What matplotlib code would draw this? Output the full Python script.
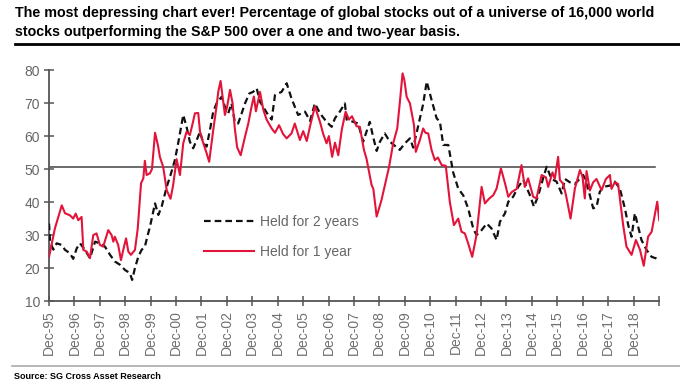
import matplotlib
matplotlib.use('Agg')
import matplotlib.pyplot as plt
import numpy as np

plt.rcParams['font.family'] = ['Liberation Sans', 'DejaVu Sans']

# Данные (дробный год, значение в %)
years_1y = [1995.92, 1996.15, 1996.42, 1996.55, 1996.74, 1996.87, 1996.97, 1997.07, 1997.20, 1997.27,
            1997.40, 1997.53, 1997.66, 1997.79, 1997.92, 1998.05, 1998.25, 1998.38, 1998.45, 1998.51,
            1998.64, 1998.75, 1998.84, 1998.95, 1999.04, 1999.14, 1999.30, 1999.41, 1999.54, 1999.63,
            1999.69, 1999.76, 1999.89, 1999.97, 2000.09, 2000.21, 2000.28, 2000.41, 2000.55, 2000.70,
            2000.80, 2000.94, 2001.07, 2001.20, 2001.33, 2001.46, 2001.57, 2001.66, 2001.79, 2001.86,
            2001.99, 2002.12, 2002.22, 2002.38, 2002.51, 2002.58, 2002.67, 2002.75, 2002.84, 2002.93,
            2003.04, 2003.14, 2003.23, 2003.32, 2003.46, 2003.63, 2003.76, 2003.89, 2003.98, 2004.06,
            2004.22, 2004.35, 2004.48, 2004.68, 2004.81, 2004.97, 2005.13, 2005.27, 2005.46, 2005.59,
            2005.79, 2005.92, 2006.06, 2006.19, 2006.38, 2006.58, 2006.71, 2006.84, 2006.93, 2007.06,
            2007.17, 2007.30, 2007.44, 2007.59, 2007.72, 2007.84, 2008.02, 2008.15, 2008.31, 2008.41,
            2008.61, 2008.68, 2008.81, 2008.90, 2009.00, 2009.13, 2009.30, 2009.46, 2009.62, 2009.72,
            2009.83, 2009.90, 2009.99, 2010.12, 2010.28, 2010.35, 2010.51, 2010.64, 2010.73, 2010.84,
            2010.97, 2011.10, 2011.22, 2011.37, 2011.53, 2011.69, 2011.85, 2012.02, 2012.15, 2012.28,
            2012.41, 2012.57, 2012.74, 2012.94, 2013.07, 2013.23, 2013.40, 2013.53, 2013.70, 2013.86,
            2013.99, 2014.12, 2014.32, 2014.51, 2014.64, 2014.77, 2014.97, 2015.10, 2015.30, 2015.47,
            2015.56, 2015.73, 2015.82, 2015.95, 2016.02, 2016.15, 2016.26, 2016.44, 2016.61, 2016.81,
            2016.91, 2017.00, 2017.07, 2017.20, 2017.33, 2017.46, 2017.66, 2017.83, 2017.99, 2018.05,
            2018.18, 2018.31, 2018.51, 2018.64, 2018.84, 2019.01, 2019.17, 2019.32, 2019.49, 2019.63,
            2019.85, 2019.93]
held_1y = [23.4, 32.0, 39.0, 36.6, 36.0, 35.0, 36.5, 34.5, 35.5, 25.5,
           25.0, 23.0, 30.0, 30.5, 27.0, 26.5, 31.5, 30.0, 28.0, 29.5,
           27.0, 22.4, 25.5, 29.0, 25.0, 24.0, 25.5, 32.0, 45.7, 47.2,
           52.5, 48.2, 48.7, 50.0, 61.0, 57.0, 53.7, 50.7, 43.6, 41.0,
           45.0, 53.0, 48.2, 57.8, 61.3, 60.3, 63.8, 66.9, 67.0, 61.3,
           57.8, 54.8, 52.2, 61.8, 69.0, 73.5, 76.7, 71.9, 66.4, 69.0,
           74.0, 70.0, 62.3, 56.6, 54.2, 59.8, 63.8, 69.0, 72.0, 67.5,
           73.4, 68.0, 65.0, 62.3, 61.0, 63.3, 60.6, 59.3, 60.8, 63.8,
           58.8, 61.5, 58.5, 63.0, 69.0, 64.3, 60.6, 57.8, 60.0, 53.7,
           58.0, 54.2, 62.0, 67.4, 65.0, 66.0, 63.0, 62.8, 55.8, 53.2,
           45.2, 44.0, 35.6, 38.0, 40.6, 45.0, 50.7, 57.8, 62.3, 70.0,
           79.0, 77.0, 71.9, 69.9, 63.3, 55.2, 58.8, 62.3, 61.0, 60.8,
           55.8, 52.7, 53.5, 51.2, 51.0, 40.0, 33.0, 35.0, 31.0, 30.5,
           27.5, 23.4, 30.0, 44.6, 39.6, 41.0, 42.1, 44.1, 50.2, 45.7,
           41.6, 43.0, 44.0, 51.2, 44.6, 47.2, 41.6, 41.1, 48.2, 47.5,
           44.6, 49.0, 47.0, 53.7, 46.7, 45.5, 42.1, 35.0, 44.1, 49.7,
           47.7, 41.1, 49.4, 43.5, 46.0, 47.0, 43.6, 47.0, 48.2, 44.0,
           46.0, 45.5, 33.0, 26.5, 24.0, 28.5, 25.6, 20.7, 29.5, 31.0,
           40.1, 34.5]

years_2y = [1995.92, 1995.96, 1996.09, 1996.22, 1996.42, 1996.55, 1996.74, 1996.87, 1997.01, 1997.14,
            1997.33, 1997.53, 1997.73, 1997.92, 1998.12, 1998.32, 1998.51, 1998.71, 1998.91, 1999.10,
            1999.19, 1999.30, 1999.43, 1999.56, 1999.69, 1999.82, 1999.89, 2000.09, 2000.22, 2000.35,
            2000.55, 2000.70, 2000.87, 2001.00, 2001.20, 2001.33, 2001.46, 2001.59, 2001.73, 2001.86,
            2001.99, 2002.12, 2002.25, 2002.38, 2002.51, 2002.71, 2002.84, 2002.97, 2003.10, 2003.23,
            2003.36, 2003.50, 2003.63, 2003.80, 2003.95, 2004.09, 2004.22, 2004.41, 2004.54, 2004.68,
            2004.81, 2005.07, 2005.27, 2005.46, 2005.72, 2005.99, 2006.19, 2006.38, 2006.58, 2006.84,
            2007.04, 2007.17, 2007.36, 2007.56, 2007.63, 2007.89, 2008.08, 2008.28, 2008.54, 2008.67,
            2008.81, 2008.94, 2009.13, 2009.33, 2009.53, 2009.72, 2009.92, 2010.12, 2010.25, 2010.45,
            2010.64, 2010.78, 2010.97, 2011.17, 2011.30, 2011.43, 2011.63, 2011.82, 2012.02, 2012.22,
            2012.41, 2012.61, 2012.74, 2012.94, 2013.14, 2013.33, 2013.53, 2013.66, 2013.86, 2013.99,
            2014.18, 2014.38, 2014.58, 2014.84, 2015.00, 2015.17, 2015.36, 2015.50, 2015.69, 2015.89,
            2016.09, 2016.22, 2016.41, 2016.61, 2016.94, 2017.13, 2017.33, 2017.46, 2017.59, 2017.72,
            2017.99, 2018.18, 2018.38, 2018.58, 2018.71, 2018.84, 2018.97, 2019.10, 2019.23, 2019.43,
            2019.63, 2019.82, 2019.93]
held_2y = [33.5, 28.0, 25.6, 27.5, 27.0, 25.5, 24.5, 22.8, 26.0, 27.5,
           25.5, 23.0, 28.0, 27.5, 26.5, 24.0, 22.0, 21.0, 19.4, 18.5,
           16.4, 20.0, 23.4, 25.5, 26.5, 30.5, 32.5, 39.6, 36.1, 38.6,
           44.6, 48.2, 52.7, 57.8, 66.4, 62.8, 58.3, 56.3, 58.8, 61.3,
           57.8, 56.8, 61.8, 67.4, 69.9, 71.9, 68.9, 66.9, 69.9, 64.3,
           63.8, 66.9, 69.9, 72.9, 73.4, 74.5, 70.4, 68.0, 66.4, 65.0,
           72.4, 73.4, 76.0, 71.4, 66.4, 67.4, 64.6, 69.9, 66.9, 64.3,
           62.8, 65.4, 67.4, 69.9, 65.0, 64.3, 63.8, 58.3, 64.3, 59.8,
           55.5, 58.3, 60.8, 58.3, 57.0, 55.8, 57.8, 59.3, 56.5, 63.3,
           69.7, 76.5, 71.0, 65.4, 64.3, 57.3, 57.3, 49.0, 44.1, 42.0,
           38.1, 32.0, 30.0, 31.5, 33.5, 32.0, 28.5, 34.0, 36.6, 40.1,
           41.6, 44.6, 46.7, 42.1, 38.6, 42.0, 47.2, 50.7, 47.0, 46.2,
           42.6, 47.0, 46.0, 45.5, 48.2, 44.1, 38.1, 38.5, 43.1, 44.6,
           45.0, 46.2, 44.1, 38.0, 33.0, 29.5, 36.6, 32.5, 28.5, 25.5,
           23.4, 22.9, 22.4]

tick_labels = ['Dec-%02d' % (y % 100) for y in range(1995, 2019)]
tick_pos = [y + 11 / 12 for y in range(1995, 2020)]
level = 50.5

fig = plt.figure(figsize=(6.8, 3.85), dpi=100)
ax = fig.add_axes([0.072, 0.218, 0.897, 0.6])

ax.plot(years_2y, held_2y, color='#111111', lw=1.6, ls=(0, (3, 1.8)), label='Held for 2 years', zorder=3)
ax.plot(years_1y, held_1y, color='#e3143a', lw=1.5, label='Held for 1 year', zorder=4)
ax.axhline(level, xmin=0, xmax=0.993, color='#444444', lw=1.1, zorder=2)

ax.set_xlim(tick_pos[0], tick_pos[-1])
ax.set_ylim(10, 80)
ax.set_xticks(tick_pos)
ax.set_xticklabels(tick_labels + [''], rotation=90, fontsize=10, color='#707070')
ax.set_yticks(range(10, 81, 10))
ax.tick_params(axis='y', labelsize=10, labelcolor='#666666', direction='inout', length=7, width=1.1, color='#555555', pad=3)
ax.tick_params(axis='x', direction='inout', length=7, width=1.1, color='#555555', pad=3)
for s in ['top', 'right']:
    ax.spines[s].set_visible(False)
for s in ['left', 'bottom']:
    ax.spines[s].set_color('#555555')
    ax.spines[s].set_linewidth(1.3)

leg = ax.legend(loc='upper left', bbox_to_anchor=(0.255, 0.372), frameon=False, fontsize=10,
                handlelength=3.6, handletextpad=0.4, labelspacing=1.15, borderpad=0, borderaxespad=0)
for t in leg.get_texts():
    t.set_color('#666666')

# Заголовок и подпись источника
fig.text(0.022, 0.966, 'The most depressing chart ever! Percentage of global stocks out of a universe of 16,000 world',
         fontsize=10.3, fontweight='bold', va='center', ha='left')
fig.text(0.022, 0.918, 'stocks outperforming the S&P 500 over a one and two-year basis.',
         fontsize=10.3, fontweight='bold', va='center', ha='left')
fig.add_artist(plt.Line2D([0.022, 1.0], [0.885, 0.885], color='black', lw=2))
fig.add_artist(plt.Line2D([0.018, 1.0], [0.049, 0.049], color='#aaaaaa', lw=1.2))
fig.text(0.02, 0.023, 'Source: SG Cross Asset Research', fontsize=6.5, fontweight='bold', va='center', ha='left')

fig.savefig('out.png', dpi=100)
